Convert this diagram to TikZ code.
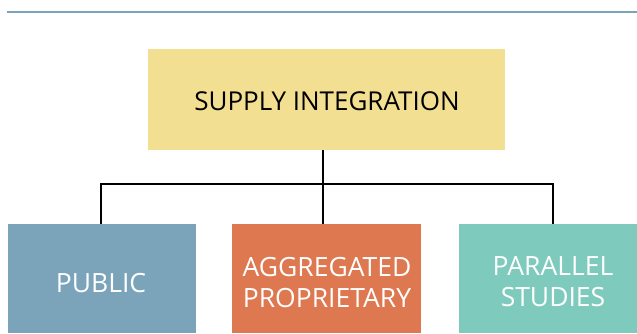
\documentclass[tikz,border=0pt]{standalone}
\usepackage{fontspec}
\setmainfont{Open Sans}
\definecolor{topline}{HTML}{7BA3BA}
\definecolor{ybox}{HTML}{F3DF91}
\definecolor{bbox}{HTML}{7BA4BA}
\definecolor{obox}{HTML}{DE7850}
\definecolor{tbox}{HTML}{7ECBBD}
\begin{document}
\begin{tikzpicture}[x=1pt,y=-1pt,
  boxfill/.style={inner sep=0pt, outer sep=0pt},
  labeltext/.style={align=center, font=\fontsize{26.5}{31}\selectfont},
  toptext/.style={align=center, font=\fontsize{26}{31}\selectfont},
  conn/.style={line width=2.5pt, black}]
\useasboundingbox (0,0) rectangle (637,333);
\fill[white] (0,0) rectangle (637,333);
\draw[topline, line width=2pt] (7,11.5) -- (637,11.5);
% top box
\fill[ybox] (148,49) rectangle (505,150);
\node[toptext, text=black] (top) at (327,101) {SUPPLY INTEGRATION};
\coordinate (topb) at (323,150);
% bottom boxes
\fill[bbox] (8,224) rectangle (196,333);
\fill[obox] (232,224) rectangle (421,333);
\fill[tbox] (459,224) rectangle (637,333);
\node[labeltext, text=white] (pub) at (101,283) {PUBLIC};
\node[labeltext, text=white] (agg) at (327,283) {AGGREGATED\\PROPRIETARY};
\node[labeltext, text=white] (par) at (553,282) {PARALLEL\\STUDIES};
\coordinate (pubt) at (101,224);
\coordinate (aggt) at (323,224);
\coordinate (part) at (553,224);
\coordinate (mid) at (323,184);
% connectors
\draw[conn] (topb) -- (aggt);
\draw[conn] (pubt) |- (mid) -| (part);
\end{tikzpicture}
\end{document}
